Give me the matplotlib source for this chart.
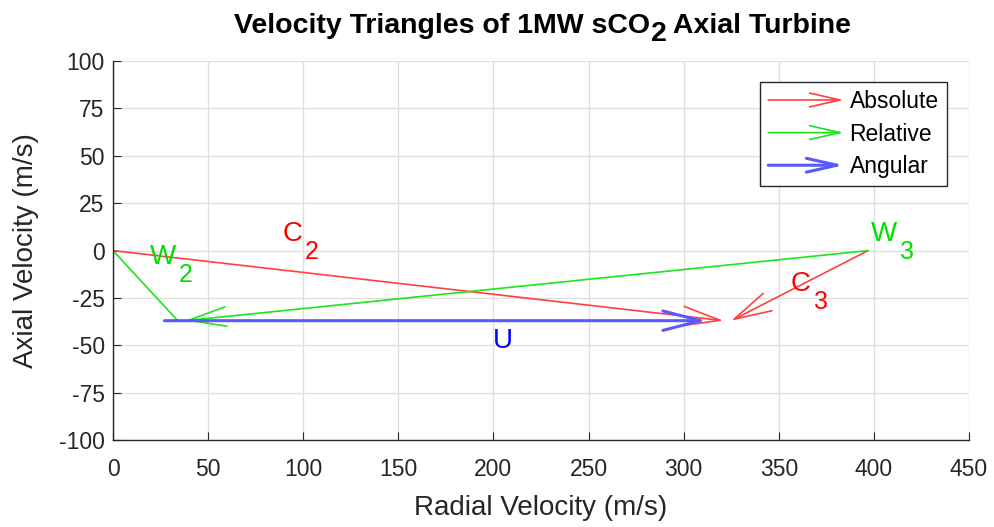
import numpy as np
import matplotlib
matplotlib.use("Agg")
import matplotlib.pyplot as plt
from matplotlib.patches import FancyArrowPatch
from matplotlib.legend_handler import HandlerPatch

plt.rcParams['font.family'] = ['Liberation Sans', 'DejaVu Sans']
plt.rcParams['axes.unicode_minus'] = False

# velocity vectors (start x, start y, end x, end y) in m/s
c2 = [0, 0, 321, -37]
c3 = [397, 0, 325, -37]
w3 = [397, 0, 38, -37]
w2 = [0, 0, 34, -37]
u = [27, -37, 312, -37]

# vector labels: main letter, subscript, position
lab_main = ["C", "W", "W", "C", "U"]
lab_sub = ["2", "2", "3", "3", ""]
lab_x = [89, 19.5, 398.5, 356.5, 199.5]
lab_y = [9, -3.2, 9, -17.4, -47.5]
lab_c = ["red", "#00e000", "#00e000", "red", "blue"]

RED = (1, 0.25, 0.25)
GREEN = (0.1, 0.9, 0.1)
BLUE = (0.35, 0.35, 1.0)
DARK = "0.15"

fig = plt.figure(figsize=(9.94, 5.27), dpi=100)
ax = fig.add_axes([0.1137, 0.165, 0.8611, 0.719])
renderer = fig.canvas.get_renderer()


def arrow(v, color, lw=1.2, head=True):
    style = "->,head_length=2.7,head_width=0.7" if head else "-"
    p = FancyArrowPatch((v[0], v[1]), (v[2], v[3]), arrowstyle=style,
                        color=color, lw=lw, mutation_scale=10,
                        shrinkA=0, shrinkB=0)
    ax.add_patch(p)
    return p


a1 = arrow(c2, RED)
arrow(c3, RED)
a2 = arrow(w3, GREEN)
arrow(w2, GREEN, head=False)
a3 = arrow(u, BLUE, lw=2.2)

# letters with MATLAB-like large, low subscripts
for m, s, x, y, c in zip(lab_main, lab_sub, lab_x, lab_y, lab_c):
    t = ax.text(x, y, m, color=c, fontsize=20, va="center", ha="left")
    if s:
        w = t.get_window_extent(renderer).width * 72 / fig.dpi
        ax.annotate(s, (x, y), xytext=(w + 2, -13), textcoords="offset points",
                    color=c, fontsize=18, va="center", ha="left")


class ArrowHandler(HandlerPatch):
    def create_artists(self, legend, orig, xd, yd, w, h, fs, trans):
        p = FancyArrowPatch((-xd, h / 2 - yd), (w - xd, h / 2 - yd),
                            arrowstyle="->,head_length=2.2,head_width=0.5",
                            color=orig.get_edgecolor(), lw=orig.get_linewidth(),
                            mutation_scale=10, shrinkA=0, shrinkB=0)
        p.set_transform(trans)
        return [p]


ax.legend([a1, a2, a3], ["Absolute", "Relative", "Angular"],
          handler_map={FancyArrowPatch: ArrowHandler()},
          loc="upper right", bbox_to_anchor=(0.974, 0.945), fontsize=16.5,
          fancybox=False, edgecolor=DARK, framealpha=1, handlelength=3.3,
          handletextpad=0.25, borderpad=0.35, labelspacing=0.42,
          borderaxespad=0)

ax.set_xlim(0, 450)
ax.set_ylim(-100, 100)
ax.set_xticks(np.arange(0, 451, 50))
ax.set_yticks(np.arange(-100, 101, 25))
ax.grid(True, color="0.87", lw=0.9)
ax.set_axisbelow(True)
ax.tick_params(direction="in", labelsize=16.5, color=DARK, labelcolor=DARK,
               length=6)
ax.tick_params(axis="y", pad=6)
ax.tick_params(axis="x", pad=13)
ax.spines["top"].set_visible(False)
ax.spines["right"].set_visible(False)
for s in ["left", "bottom"]:
    ax.spines[s].set_color(DARK)
    ax.spines[s].set_linewidth(1.0)

ax.set_xlabel("Radial Velocity (m/s)", fontsize=20, color=DARK, labelpad=10)
ax.set_ylabel("Axial Velocity (m/s)", fontsize=20, color=DARK, labelpad=14)

# title with a MATLAB-style subscript, built from pieces and centred
pieces = [("Velocity Triangles of 1MW sCO", 0), ("2", -8), (" Axial Turbine", 0)]
tsize = 20.5
widths = []
for txt, dy in pieces:
    t = fig.text(0, 0, txt, fontsize=tsize, fontweight="bold")
    widths.append(t.get_window_extent(renderer).width)
    t.remove()
x0 = 543 - sum(widths) / 2
for (txt, dy), w in zip(pieces, widths):
    fig.text(x0 / 994, (527 - 26 + dy) / 527, txt, fontsize=tsize,
             fontweight="bold", va="center", ha="left")
    x0 += w

fig.savefig("out.png", dpi=100)
